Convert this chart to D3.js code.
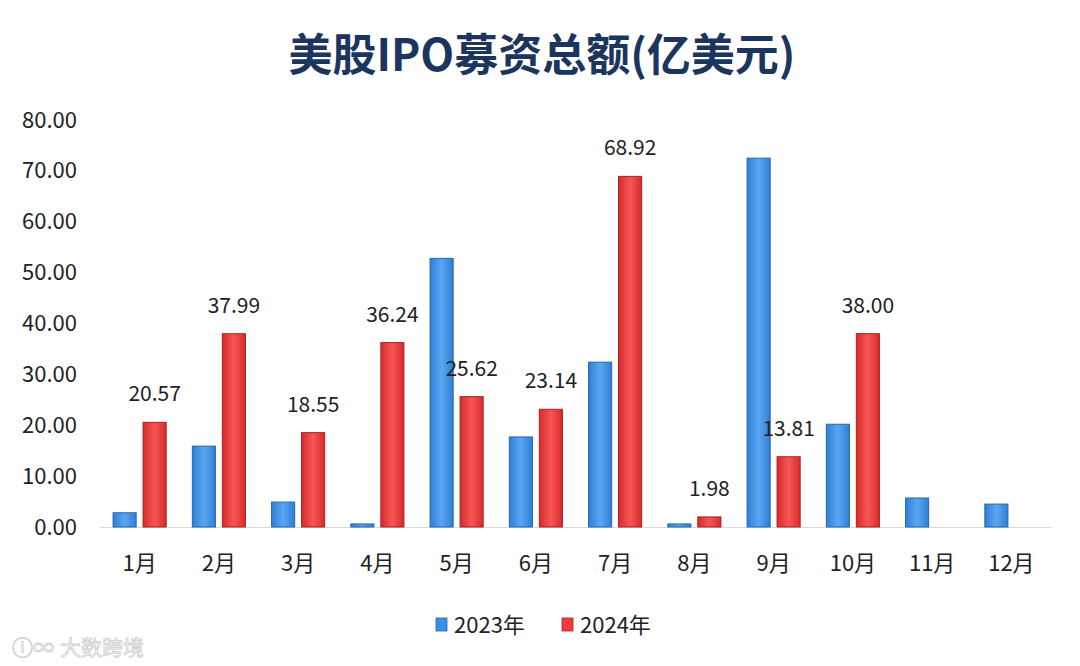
<!DOCTYPE html>
<html><head><meta charset="utf-8">
<script src="https://cdn.jsdelivr.net/npm/d3@7"></script>
<style>body{margin:0;background:#fff;} svg{display:block;}</style>
</head><body>
<script>
const months = ["1月","2月","3月","4月","5月","6月","7月","8月","9月","10月","11月","12月"];
const seriesNames = ["2023年","2024年"];
const values2023 = [2.8, 15.9, 4.9, 0.6, 52.8, 17.7, 32.4, 0.6, 72.5, 20.2, 5.7, 4.5];
const values2024 = [20.57, 37.99, 18.55, 36.24, 25.62, 23.14, 68.92, 1.98, 13.81, 38.00, 0, 0];
const labels2024 = ["20.57","37.99","18.55","36.24","25.62","23.14","68.92","1.98","13.81","38.00","",""];
const yTicks = [0,10,20,30,40,50,60,70,80];
const title = "美股IPO募资总额(亿美元)";

const W = 1080, H = 666;
const font = "'Noto Sans CJK SC','Noto Sans',sans-serif";
const svg = d3.select("body").append("svg").attr("width", W).attr("height", H);

const x0 = d3.scaleBand().domain(months).range([100, 1051]).paddingInner(0.33).paddingOuter(0.165);
const x1 = d3.scaleBand().domain(seriesNames).range([0, x0.bandwidth()]).paddingInner(0.23);
const y = d3.scaleLinear().domain([0, 80]).range([527, 120]);
const colors = {"2023年":"#3a8fe8","2024年":"#f03c3c"};
const strokes = {"2023年":"#2566b0","2024年":"#a82222"};

const defs = svg.append("defs");
[["g23","#2f7fd8","#5aa6f0"],["g24","#d92a2a","#f65656"]].forEach(([id,a,b])=>{
  const g = defs.append("linearGradient").attr("id",id).attr("x1","0").attr("x2","1");
  g.append("stop").attr("offset","0%").attr("stop-color",a);
  g.append("stop").attr("offset","50%").attr("stop-color",b);
  g.append("stop").attr("offset","100%").attr("stop-color",a);
});
const fills = {"2023年":"url(#g23)","2024年":"url(#g24)"};

// title
svg.append("text").attr("x", 542).attr("y", 71).attr("text-anchor","middle")
  .attr("font-family", font).attr("font-weight","bold").attr("font-size", 44)
  .attr("fill","#1c355e").text(title);

// y axis
const yAxis = d3.axisLeft(y).tickValues(yTicks).tickFormat(d3.format(".2f")).tickSize(0).tickPadding(0);
const ya = svg.append("g").attr("transform","translate(77,0)").call(yAxis);
ya.select(".domain").remove();
ya.selectAll("text").attr("font-family", font).attr("font-size", 22).attr("fill","#222");

// baseline
svg.append("line").attr("x1",100).attr("x2",1051).attr("y1",y(0)+0.5).attr("y2",y(0)+0.5)
  .attr("stroke","#d9d9d9").attr("stroke-width",1);

// x axis
const xAxis = d3.axisBottom(x0).tickSize(0).tickPadding(0);
const xa = svg.append("g").attr("transform","translate(0,555)").call(xAxis);
xa.select(".domain").remove();
xa.selectAll("text").attr("font-family", font).attr("font-size", 22).attr("fill","#222");

// bars
const data = months.map((m,i)=>({m, vals:[{s:"2023年",v:values2023[i]},{s:"2024年",v:values2024[i],l:labels2024[i]}]}));
const groups = svg.append("g").selectAll("g").data(data).join("g")
  .attr("transform", d=>`translate(${x0(d.m)},0)`);
groups.selectAll("rect").data(d=>d.vals.filter(e=>e.v>0)).join("rect")
  .attr("x", e=>x1(e.s)).attr("width", x1.bandwidth())
  .attr("y", e=>y(e.v)).attr("height", e=>y(0)-y(e.v))
  .attr("fill", e=>fills[e.s]).attr("stroke", e=>strokes[e.s]).attr("stroke-width",1);
groups.selectAll("text.lbl").data(d=>d.vals.filter(e=>e.l)).join("text").attr("class","lbl")
  .attr("x", e=>x1(e.s)+x1.bandwidth()/2).attr("y", e=>y(e.v)-21)
  .attr("text-anchor","middle").attr("font-family", font).attr("font-size", 21).attr("fill","#222")
  .text(e=>e.l);

// legend
const lg = svg.append("g").attr("transform","translate(436,625)");
const li = lg.selectAll("g").data(seriesNames).join("g").attr("transform",(d,i)=>`translate(${i*126},0)`);
li.append("rect").attr("x",0).attr("y",-7).attr("width",11).attr("height",13)
  .attr("fill",d=>colors[d]).attr("stroke",d=>strokes[d]).attr("stroke-width",0.8);
li.append("text").attr("x",18).attr("y",8).attr("font-family",font).attr("font-size",22).attr("fill","#222").text(d=>d);

// watermark
svg.append("text").attr("x",60).attr("y",655).attr("font-family",font).attr("font-size",21)
  .attr("fill","#fafafa").attr("stroke","#d0d0d0").attr("stroke-width",0.8).text("大数跨境");
svg.append("text").attr("x",12).attr("y",655).attr("font-family",font).attr("font-size",21)
  .attr("fill","#fafafa").attr("stroke","#d0d0d0").attr("stroke-width",0.8).text("ⓘ∞");
</script>
</body></html>
